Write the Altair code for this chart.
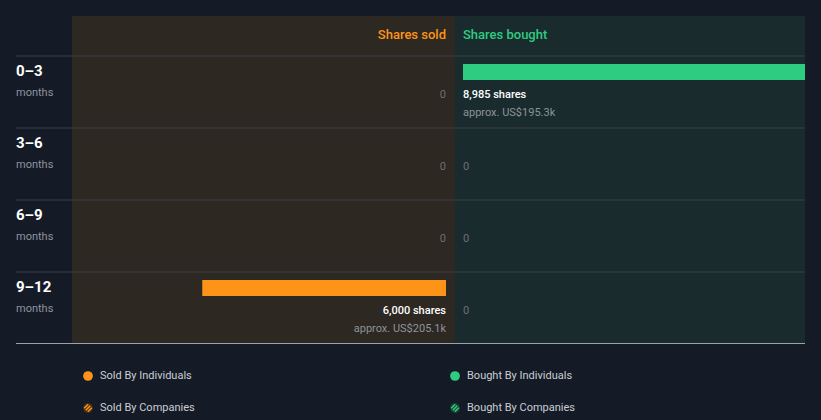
import altair as alt
import pandas as pd

periods = ["0–3", "3–6", "6–9", "9–12"]
sold_shares = [0, 0, 0, 6000]
sold_usd = ["", "", "", "approx. US$205.1k"]
bought_shares = [8985, 0, 0, 0]
bought_usd = ["approx. US$195.3k", "", "", ""]
legend_labels = ["Sold By Individuals", "Bought By Individuals", "Sold By Companies", "Bought By Companies"]

BG = "#151b26"
ORANGE = "#fd9417"
GREEN = "#2ecc81"
SOLD_BG = "#2d2822"
BOUGHT_BG = "#1a2b2e"
GRID = "#3b4048"
FONT = "Roboto"

max_val = max(sold_shares + bought_shares)


def fmt(v):
    return f"{v:,} shares" if v > 0 else "0"


sold = pd.DataFrame({"period": periods, "shares": sold_shares, "usd": sold_usd,
                     "label": [fmt(v) for v in sold_shares]})
bought = pd.DataFrame({"period": periods, "shares": bought_shares, "usd": bought_usd,
                       "label": [fmt(v) for v in bought_shares]})
rows = pd.DataFrame({"period": periods})

yscale = alt.Scale(domain=periods, range=[56, 344], paddingInner=0, paddingOuter=0)
Y = alt.Y("period:N", scale=yscale, axis=None)
sold_x = alt.Scale(domain=[0, max_val], range=[446, 81])
bought_x = alt.Scale(domain=[0, max_val], range=[463, 805])

base = alt.Chart(rows)

# panel backgrounds
panels = alt.Chart(pd.DataFrame({"p": ["sold"]})).mark_rect().encode(
    x=alt.value(72), x2=alt.value(455), y=alt.value(16), y2=alt.value(343),
    color=alt.value(SOLD_BG))
panels_b = alt.Chart(pd.DataFrame({"p": ["bought"]})).mark_rect().encode(
    x=alt.value(455), x2=alt.value(805), y=alt.value(16), y2=alt.value(343),
    color=alt.value(BOUGHT_BG))

# row separators
seps = base.mark_rule(color=GRID, strokeWidth=1).encode(
    x=alt.value(16), x2=alt.value(805),
    y=alt.Y("period:N", scale=yscale, axis=None, bandPosition=0))
bottom = alt.Chart(pd.DataFrame({"a": [1]})).mark_rule(color="#9aa3ab", strokeWidth=1).encode(
    x=alt.value(16), x2=alt.value(805), y=alt.value(343.5))

# headers
hdr_sold = alt.Chart(pd.DataFrame({"t": ["Shares sold"]})).mark_text(
    align="right", baseline="middle", font=FONT, fontSize=13, fontWeight=500, color=ORANGE
).encode(x=alt.value(446), y=alt.value(35), text="t:N")
hdr_bought = alt.Chart(pd.DataFrame({"t": ["Shares bought"]})).mark_text(
    align="left", baseline="middle", font=FONT, fontSize=13, fontWeight=500, color=GREEN
).encode(x=alt.value(463), y=alt.value(35), text="t:N")

# period labels
per_lbl = base.mark_text(align="left", baseline="middle", font=FONT, fontSize=15,
                         fontWeight="bold", color="#ffffff", dy=-21).encode(
    x=alt.value(16), y=Y, text="period:N")
months = base.mark_text(align="left", baseline="middle", font=FONT, fontSize=11,
                        color="#8d939b", dy=1).encode(
    x=alt.value(16), y=Y, text=alt.value("months"))

# bars
sold_bars = alt.Chart(sold).transform_filter("datum.shares > 0").mark_bar(
    color=ORANGE, size=16, yOffset=-20).encode(
    x=alt.X("shares:Q", scale=sold_x, axis=None), x2=alt.datum(0), y=Y)
bought_bars = alt.Chart(bought).transform_filter("datum.shares > 0").mark_bar(
    color=GREEN, size=16, yOffset=-20).encode(
    x=alt.X("shares:Q", scale=bought_x, axis=None), x2=alt.datum(0), y=Y)


def value_texts(df, align, xpos):
    c = alt.Chart(df)
    main_pos = c.transform_filter("datum.shares > 0").mark_text(
        align=align, baseline="middle", font=FONT, fontSize=11, fontWeight=500,
        color="#ffffff", dy=3).encode(x=alt.value(xpos), y=Y, text="label:N")
    zero = c.transform_filter("datum.shares == 0").mark_text(
        align=align, baseline="middle", font=FONT, fontSize=11, color="#6b6f72",
        dy=3).encode(x=alt.value(xpos), y=Y, text="label:N")
    usd = c.transform_filter("datum.shares > 0").mark_text(
        align=align, baseline="middle", font=FONT, fontSize=11, color="#8d939b",
        dy=21).encode(x=alt.value(xpos), y=Y, text="usd:N")
    return main_pos + zero + usd


sold_txt = value_texts(sold, "right", 446)
bought_txt = value_texts(bought, "left", 463)

# legend
leg = pd.DataFrame({"label": legend_labels,
                    "lx": [88, 455, 88, 455], "ly": [376, 376, 408, 408],
                    "col": [ORANGE, GREEN, ORANGE, GREEN],
                    "fillc": [ORANGE, GREEN, "#4a3117", "#17452f"],
                    "kind": ["ind", "ind", "co", "co"]})
leg_dots = alt.Chart(leg).mark_point(shape="circle", size=95, filled=True, opacity=1).encode(
    x=alt.X("lx:Q", scale=None), y=alt.Y("ly:Q", scale=None),
    color=alt.Color("fillc:N", scale=None))
leg_hatch = alt.Chart(leg).transform_filter("datum.kind == 'co'").mark_point(
    shape="M-0.5,0.5L0.5,-0.5M-0.85,0.05L0.05,-0.85M-0.05,0.85L0.85,-0.05",
    size=80, filled=False, strokeWidth=1.5, opacity=1).encode(
    x=alt.X("lx:Q", scale=None), y=alt.Y("ly:Q", scale=None),
    color=alt.Color("col:N", scale=None))
leg_txt = alt.Chart(leg).mark_text(align="left", baseline="middle", font=FONT, fontSize=11,
                                   color="#c9ced4", dx=12).encode(
    x=alt.X("lx:Q", scale=None), y=alt.Y("ly:Q", scale=None), text="label:N")

chart = alt.layer(
    panels, panels_b, seps, bottom, hdr_sold, hdr_bought, per_lbl, months,
    sold_bars, bought_bars, sold_txt, bought_txt, leg_dots, leg_hatch, leg_txt
).resolve_scale(x="independent").properties(
    width=821, height=420, background=BG, padding=0,
    autosize=alt.AutoSizeParams(type="none")
).configure_view(stroke=None)

chart.save("out.html", embed_options={"renderer": "svg", "actions": False})
